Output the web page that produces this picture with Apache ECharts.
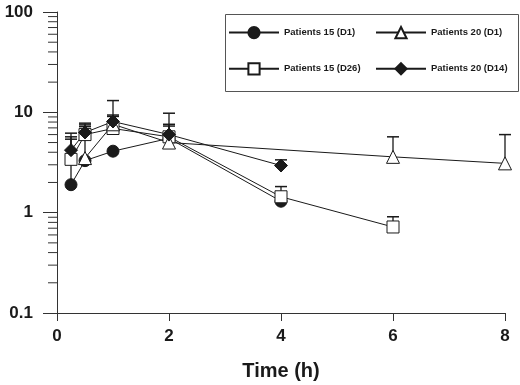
<!DOCTYPE html>
<html>
<head>
<meta charset="utf-8">
<script src="https://cdn.jsdelivr.net/npm/echarts@6/dist/echarts.min.js"></script>
<style>
html,body{margin:0;padding:0;background:#fff;}
#chart{width:520px;height:385px;}
</style>
</head>
<body>
<div id="chart"></div>
<script>
// ---- data ----
const seriesNames = ['Patients 15 (D1)', 'Patients 15 (D26)', 'Patients 20 (D1)', 'Patients 20 (D14)'];

const timesP15D1 = [0.25, 0.5, 1, 2, 4];
const valuesP15D1 = [1.9, 3.3, 4.1, 5.5, 1.3];
const upperP15D1 = [5.4, null, null, null, null];

const timesP15D26 = [0.25, 0.5, 1, 2, 4, 6];
const valuesP15D26 = [3.4, 6.0, 6.9, 5.7, 1.44, 0.72];
const upperP15D26 = [5.7, 7.5, 9.1, 7.3, 1.82, 0.91];

const timesP20D1 = [0.5, 1, 2, 6, 8];
const valuesP20D1 = [3.5, 7.6, 5.0, 3.6, 3.1];
const upperP20D1 = [7.2, 13.1, 9.8, 5.7, 6.0];

const timesP20D14 = [0.25, 0.5, 1, 2, 4];
const valuesP20D14 = [4.2, 6.3, 8.1, 6.0, 2.95];
const upperP20D14 = [6.2, 7.8, 9.4, 7.6, 3.36];

const xTicks = [0, 2, 4, 6, 8];
const yMajorTicks = [0.1, 1, 10, 100];
const yMinorTicks = [0.2, 0.3, 0.4, 0.5, 0.6, 0.7, 0.8, 0.9, 2, 3, 4, 5, 6, 7, 8, 9, 20, 30, 40, 50, 60, 70, 80, 90];

// ---- build ----
const INK = '#1a1a1a';
function pairs(ts, vs) { return ts.map((t, i) => [t, vs[i]]); }
function errs(ts, vs, us) {
  const out = [];
  ts.forEach((t, i) => { if (us[i] != null) out.push([t, vs[i], us[i]]); });
  return out;
}
const errData = [].concat(
  errs(timesP15D1, valuesP15D1, upperP15D1),
  errs(timesP15D26, valuesP15D26, upperP15D26),
  errs(timesP20D1, valuesP20D1, upperP20D1),
  errs(timesP20D14, valuesP20D14, upperP20D14)
);

function lineSeries(name, data, symbol, size, filled) {
  return {
    name: name, type: 'line', data: data, symbol: symbol, symbolSize: size,
    showAllSymbol: true, animation: false, z: 3,
    lineStyle: { color: INK, width: 1 },
    itemStyle: { color: filled ? INK : '#ffffff', borderColor: INK, borderWidth: 1, opacity: 1 },
    emphasis: { disabled: true }
  };
}

const chart = echarts.init(document.getElementById('chart'), null, { renderer: 'canvas' });
const tickFont = { fontFamily: 'Liberation Sans, Arial, sans-serif', fontWeight: 'bold', fontSize: 17, color: INK };
const legendText = { fontFamily: 'Liberation Sans, Arial, sans-serif', fontWeight: 'bold', fontSize: 9.5, color: INK };

chart.setOption({
  animation: false,
  backgroundColor: '#ffffff',
  grid: { left: 57, right: 15, top: 12, bottom: 72, containLabel: false, outerBoundsMode: 'none' },
  xAxis: {
    type: 'value', min: xTicks[0], max: xTicks[xTicks.length - 1], interval: 2,
    name: 'Time (h)', nameLocation: 'middle', nameGap: 48,
    nameTextStyle: { fontFamily: 'Liberation Sans, Arial, sans-serif', fontWeight: 'bold', fontSize: 20, color: INK },
    axisLine: { show: true, lineStyle: { color: '#333', width: 1 } },
    axisTick: { show: true, inside: false, length: 8, lineStyle: { color: '#333', width: 1 } },
    axisLabel: Object.assign({ margin: 15 }, tickFont),
    splitLine: { show: false }, minorTick: { show: false }
  },
  yAxis: {
    type: 'log', logBase: 10, min: yMajorTicks[0], max: yMajorTicks[yMajorTicks.length - 1], splitNumber: 3,
    axisLine: { show: true, lineStyle: { color: '#333', width: 1 } },
    axisTick: { show: true, inside: false, length: 14, lineStyle: { color: '#333', width: 1 } },
    axisLabel: Object.assign({ margin: 24, formatter: function (v) { return String(+v.toPrecision(3)); } }, tickFont),
    splitLine: { show: false }, minorTick: { show: false }
  },
  legend: [
    {
      data: [seriesNames[0], seriesNames[1]], orient: 'vertical', left: 228, top: 26, padding: 0,
      itemWidth: 50, itemHeight: 14, itemGap: 23, textStyle: legendText, selectedMode: false
    },
    {
      data: [seriesNames[2], seriesNames[3]], orient: 'vertical', left: 375, top: 26, padding: 0,
      itemWidth: 50, itemHeight: 14, itemGap: 23, textStyle: legendText, selectedMode: false
    }
  ],
  graphic: [{
    type: 'rect', left: 223, top: 12, shape: { width: 293, height: 77 },
    style: { fill: 'none', stroke: '#555', lineWidth: 1 }, silent: true
  }],
  series: [
    {
      type: 'custom', name: 'minorTicks', data: yMinorTicks.map(v => [0, v]), clip: false, z: 1,
      silent: true, animation: false,
      renderItem: function (params, api) {
        const p = api.coord([api.value(0), api.value(1)]);
        return { type: 'line', shape: { x1: p[0] - 9, y1: p[1], x2: p[0], y2: p[1] }, style: { stroke: '#333', lineWidth: 1 } };
      }
    },
    {
      type: 'custom', name: 'errorBars', data: errData, clip: false, z: 2, silent: true, animation: false,
      renderItem: function (params, api) {
        const a = api.coord([api.value(0), api.value(1)]);
        const b = api.coord([api.value(0), api.value(2)]);
        return {
          type: 'group', children: [
            { type: 'line', shape: { x1: a[0], y1: a[1], x2: b[0], y2: b[1] }, style: { stroke: INK, lineWidth: 1.3 } },
            { type: 'line', shape: { x1: b[0] - 6, y1: b[1], x2: b[0] + 6, y2: b[1] }, style: { stroke: INK, lineWidth: 1.5 } }
          ]
        };
      }
    },
    lineSeries(seriesNames[0], pairs(timesP15D1, valuesP15D1), 'circle', 12, true),
    lineSeries(seriesNames[1], pairs(timesP15D26, valuesP15D26), 'rect', 12, false),
    lineSeries(seriesNames[2], pairs(timesP20D1, valuesP20D1), 'triangle', 13, false),
    lineSeries(seriesNames[3], pairs(timesP20D14, valuesP20D14), 'diamond', 13, true)
  ]
});
</script>
</body>
</html>
